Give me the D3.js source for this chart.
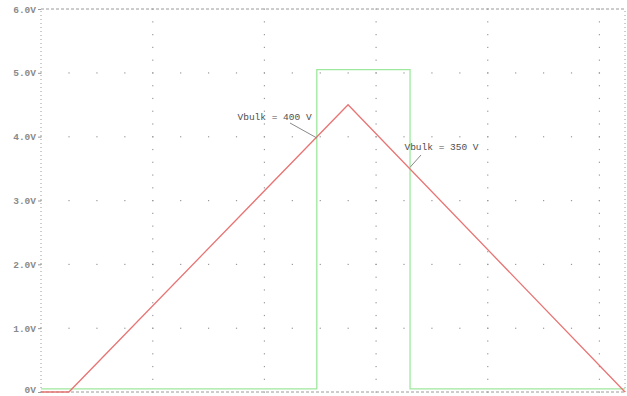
<!DOCTYPE html>
<html><head><meta charset="utf-8">
<script src="https://cdn.jsdelivr.net/npm/d3@7"></script>
<style>body{margin:0;background:#fff}svg{display:block}</style>
</head><body>
<script>
// Data (x in grid divisions, y in volts)
const redX = [0, 0.25, 2.75, 5.23];
const redY = [0, 0, 4.5, 0];
const greenX = [0, 2.47, 2.47, 3.305, 3.305, 5.23];
const greenY = [0.05, 0.05, 5.05, 5.05, 0.05, 0.05];
const yTicks = [0, 1, 2, 3, 4, 5, 6];
const yTickLabels = ["0V", "1.0V", "2.0V", "3.0V", "4.0V", "5.0V", "6.0V"];
const xGrid = [1, 2, 3, 4, 5];
const annText = ["Vbulk = 400 V", "Vbulk = 350 V"];
const annAnchorX = [2.47, 3.305];
const annAnchorY = [3.98, 3.52];
const annTextX = [1.76, 3.255];
const annTextY = [4.26, 3.79];

const W = 627, H = 396;
const svg = d3.select("body").append("svg").attr("width", W).attr("height", H);
const x = d3.scaleLinear().domain([0, 5.23]).range([41, 625]);
const y = d3.scaleLinear().domain([0, 6]).range([392, 9]);
const grid = "#9a9a9a";

// Minor grid dots along vertical grid lines
const g = svg.append("g");
xGrid.forEach(xv => {
  d3.range(0, 6.001, 0.2).forEach(yv => {
    g.append("rect").attr("x", x(xv) - 0.5).attr("y", y(yv) - 0.5).attr("width", 1.2).attr("height", 1.2).attr("fill", grid);
  });
});
// Minor grid dots along horizontal grid lines
yTicks.slice(1, 6).forEach(yv => {
  d3.range(0, 5.23, 0.25).forEach(xv => {
    g.append("rect").attr("x", x(xv) - 0.5).attr("y", y(yv) - 0.5).attr("width", 1.2).attr("height", 1.2).attr("fill", grid);
  });
});

// Frame
svg.append("line").attr("x1", x(0)).attr("x2", x(5.23)).attr("y1", y(6)).attr("y2", y(6))
  .attr("stroke", grid).attr("stroke-dasharray", "3,2");
svg.append("line").attr("x1", x(0)).attr("x2", x(5.23)).attr("y1", y(0)).attr("y2", y(0))
  .attr("stroke", grid).attr("stroke-dasharray", "3,2");
svg.append("line").attr("x1", x(0)).attr("x2", x(0)).attr("y1", y(0)).attr("y2", y(6))
  .attr("stroke", grid).attr("stroke-dasharray", "1,3");
svg.append("line").attr("x1", x(5.23)).attr("x2", x(5.23)).attr("y1", y(0)).attr("y2", y(6))
  .attr("stroke", grid).attr("stroke-dasharray", "1,3");

// Y axis labels
const yAxis = d3.axisLeft(y).tickValues(yTicks).tickFormat((d, i) => yTickLabels[i]).tickSize(3).tickPadding(2);
const ya = svg.append("g").attr("transform", `translate(${x(0)},0)`).call(yAxis);
ya.select(".domain").remove();
ya.selectAll("line").attr("stroke", grid);
ya.selectAll("text").attr("font-family", "'Liberation Mono', monospace").attr("font-size", 9.5)
  .attr("font-weight", "bold").attr("fill", "#8a8a8a");
ya.selectAll(".tick").filter(d => d === 0).select("text").attr("dy", "0.05em");

// Curves
const line = d3.line().x(d => x(d[0])).y(d => y(d[1]));
svg.append("path").datum(greenX.map((v, i) => [v, greenY[i]])).attr("d", line)
  .attr("fill", "none").attr("stroke", "#9ee89e").attr("stroke-width", 1.3);
svg.append("path").datum(redX.map((v, i) => [v, redY[i]])).attr("d", line)
  .attr("fill", "none").attr("stroke", "#e87474").attr("stroke-width", 1.3);

// Annotations
annText.forEach((t, i) => {
  const tx = x(annTextX[i]), ty = y(annTextY[i]);
  svg.append("text").attr("x", tx).attr("y", ty).text(t)
    .attr("font-family", "'Liberation Mono', monospace").attr("font-size", 9.5).attr("fill", "#505050");
});
svg.append("line").attr("x1", 290).attr("y1", 123).attr("x2", x(annAnchorX[0])).attr("y2", y(annAnchorY[0]))
  .attr("stroke", "#8a8a8a");
svg.append("line").attr("x1", 421).attr("y1", 155).attr("x2", x(annAnchorX[1])).attr("y2", y(annAnchorY[1]))
  .attr("stroke", "#8a8a8a");
</script>
</body></html>
